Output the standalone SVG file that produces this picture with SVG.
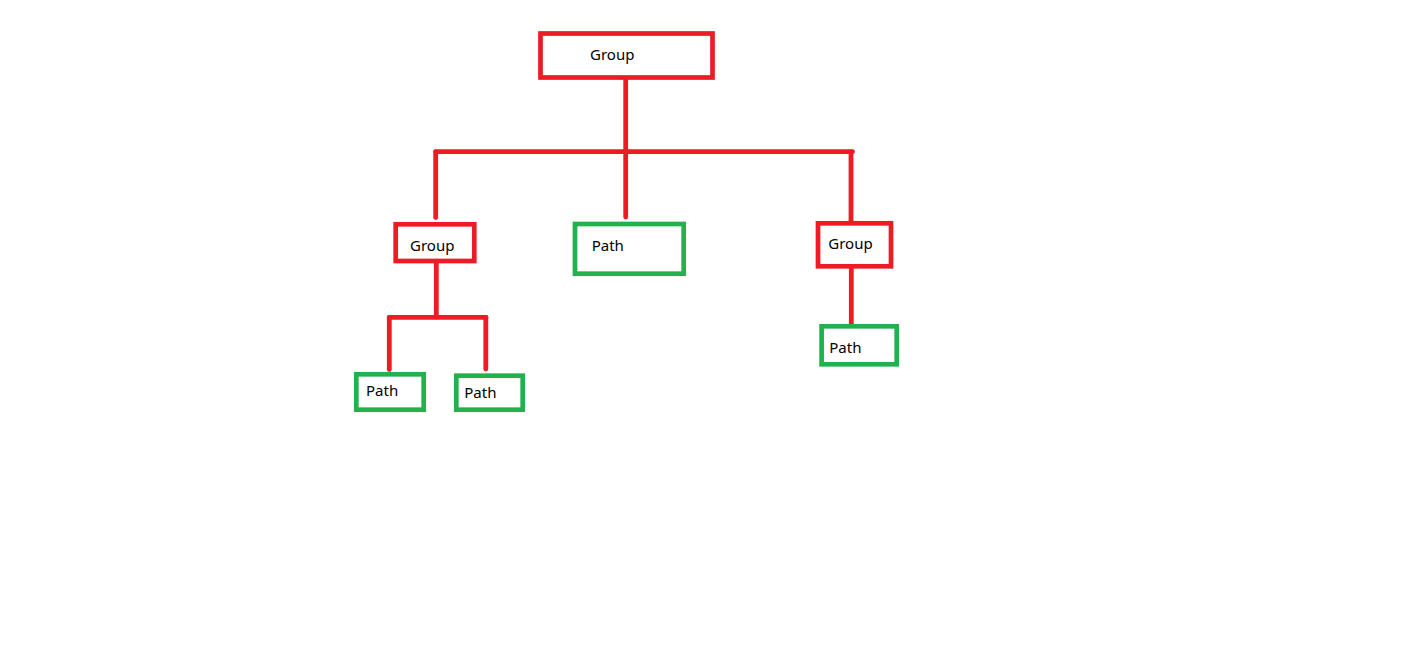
<svg xmlns="http://www.w3.org/2000/svg" width="1417" height="658" viewBox="0 0 1417 658">
<style>
.g{fill:#fff;stroke:#ED1C24;stroke-width:4.7}
.p{fill:#fff;stroke:#22B14C;stroke-width:4.7}
.c{stroke:#ED1C24;stroke-width:4.8;fill:none;stroke-linecap:round}
text{font-family:"Noto Sans","Open Sans",sans-serif;font-size:15px;fill:#000}
</style>
<rect width="1417" height="658" fill="#fff"/>
<g id="connectors">
<line class="c" x1="625.7" y1="80" x2="625.7" y2="217"/>
<line class="c" x1="435.5" y1="151.7" x2="852.5" y2="151.7"/>
<line class="c" x1="435.7" y1="152" x2="435.7" y2="217.5"/>
<line class="c" x1="851" y1="152" x2="851" y2="222"/>
<line class="c" x1="436.3" y1="263" x2="436.3" y2="317"/>
<line class="c" x1="389.3" y1="317.3" x2="486" y2="317.3"/>
<line class="c" x1="389.3" y1="317.3" x2="389.3" y2="369.5"/>
<line class="c" x1="485.8" y1="317.3" x2="485.8" y2="369"/>
<line class="c" x1="851.3" y1="268" x2="851.3" y2="325"/>
</g>
<g id="n-group-root"><rect class="g" x="540.5" y="33.5" width="172" height="44"/><text x="590" y="60">Group</text></g>
<g id="n-group-left"><rect class="g" x="395.7" y="224.3" width="78.6" height="36.7"/><text x="410" y="250.7">Group</text></g>
<g id="n-path-mid"><rect class="p" x="575" y="224" width="108.7" height="49.7"/><text x="591.7" y="250.7">Path</text></g>
<g id="n-group-right"><rect class="g" x="818" y="223.3" width="73" height="43"/><text x="828.3" y="249.3">Group</text></g>
<g id="n-path-ll"><rect class="p" x="356.3" y="374.3" width="67.4" height="35.4"/><text x="366" y="396">Path</text></g>
<g id="n-path-lr"><rect class="p" x="456.3" y="375.7" width="66.4" height="34"/><text x="464.3" y="397.7">Path</text></g>
<g id="n-path-r"><rect class="p" x="821.6" y="326.3" width="75.1" height="38"/><text x="829.3" y="352.7">Path</text></g>
</svg>
